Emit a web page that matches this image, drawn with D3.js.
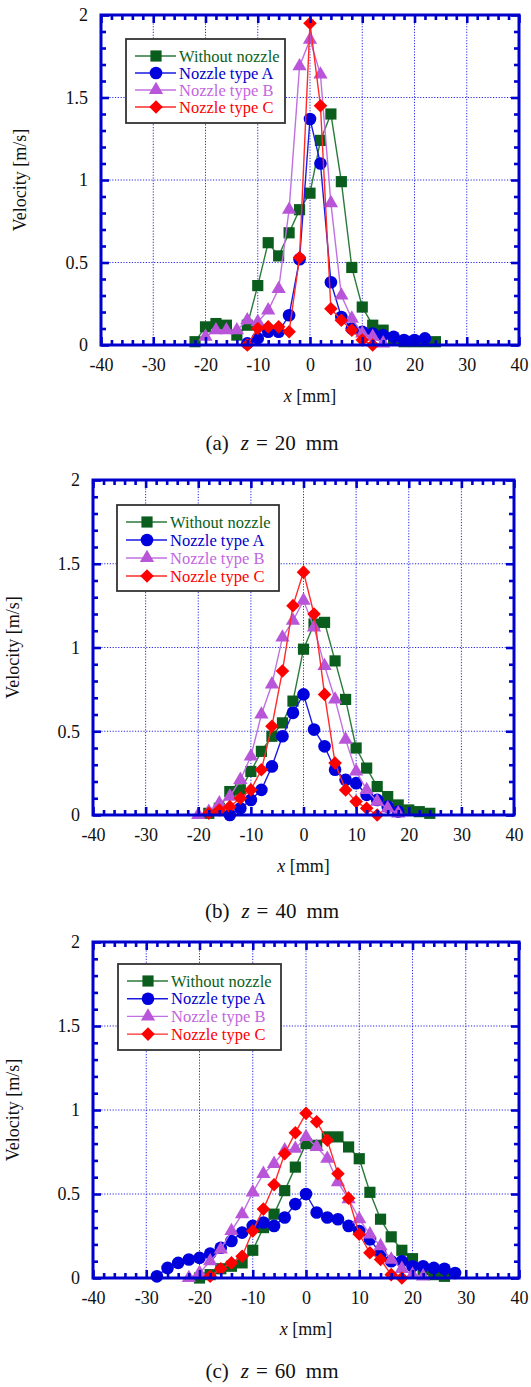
<!DOCTYPE html>
<html>
<head>
<meta charset="utf-8">
<script src="https://cdn.jsdelivr.net/npm/d3@7"></script>
<style>
  body { margin: 0; background: #fff; }
  svg { display: block; }
  svg text { font-family: "Liberation Serif", "DejaVu Serif", serif; }
</style>
</head>
<body>
<script>
const seriesNames = ["Without nozzle", "Nozzle type A", "Nozzle type B", "Nozzle type C"];
const xTicks = [-40, -30, -20, -10, 0, 10, 20, 30, 40];
const yTicks = [0, 0.5, 1, 1.5, 2];

// z = 20 mm  [x (mm), velocity (m/s)]
const z20_none = [[-22,0.02],[-20,0.11],[-18,0.13],[-16,0.12],[-14,0.06],[-12,0.12],[-10,0.36],[-8,0.62],[-6,0.54],[-4,0.68],[-2,0.82],[0,0.92],[2,1.24],[4,1.40],[6,0.99],[8,0.47],[10,0.23],[12,0.12],[14,0.09],[16,0.03],[18,0.02],[20,0.02],[22,0.02],[24,0.02]];
const z20_A = [[-12,0.01],[-10,0.04],[-8,0.08],[-6,0.08],[-4,0.18],[-2,0.52],[0,1.37],[2,1.10],[4,0.38],[6,0.17],[8,0.10],[10,0.08],[12,0.07],[14,0.06],[16,0.05],[18,0.03],[20,0.03],[22,0.04]];
const z20_B = [[-20,0.05],[-18,0.09],[-16,0.09],[-14,0.09],[-12,0.15],[-10,0.14],[-8,0.21],[-6,0.34],[-4,0.82],[-2,1.69],[0,1.85],[2,1.64],[4,0.86],[6,0.30],[8,0.16],[10,0.07],[12,0.05],[14,0.01]];
const z20_C = [[-12,0.0],[-10,0.10],[-8,0.11],[-6,0.11],[-4,0.08],[-2,0.53],[0,1.95],[2,1.45],[4,0.22],[6,0.15],[8,0.09],[10,0.03],[12,0.0]];

// z = 40 mm
const z40_none = [[-18,0.01],[-16,0.04],[-14,0.14],[-12,0.15],[-10,0.26],[-8,0.38],[-6,0.47],[-4,0.55],[-2,0.68],[0,0.99],[2,1.14],[4,1.15],[6,0.92],[8,0.69],[10,0.40],[12,0.28],[14,0.17],[16,0.11],[18,0.06],[20,0.03],[22,0.02],[24,0.01]];
const z40_A = [[-14,0.0],[-12,0.04],[-10,0.09],[-8,0.15],[-6,0.29],[-4,0.47],[-2,0.61],[0,0.72],[2,0.51],[4,0.41],[6,0.27],[8,0.21],[10,0.19],[12,0.12],[14,0.09],[16,0.05],[18,0.02]];
const z40_B = [[-20,0.0],[-18,0.02],[-16,0.07],[-14,0.11],[-12,0.21],[-10,0.35],[-8,0.60],[-6,0.78],[-4,1.06],[-2,1.16],[0,1.28],[2,1.12],[4,0.89],[6,0.69],[8,0.45],[10,0.26],[12,0.15],[14,0.08],[16,0.04],[18,0.01]];
const z40_C = [[-18,0.01],[-16,0.03],[-14,0.05],[-12,0.10],[-10,0.15],[-8,0.27],[-6,0.53],[-4,0.86],[-2,1.25],[0,1.45],[2,1.20],[4,0.72],[6,0.31],[8,0.15],[10,0.08],[12,0.04],[14,0.0]];

// z = 60 mm
const z60_none = [[-20,0.0],[-18,0.02],[-16,0.055],[-14,0.07],[-12,0.09],[-10,0.165],[-8,0.30],[-6,0.38],[-4,0.52],[-2,0.66],[0,0.80],[2,0.79],[4,0.84],[6,0.84],[8,0.78],[10,0.71],[12,0.51],[14,0.35],[16,0.245],[18,0.165],[20,0.115],[22,0.05],[24,0.02],[26,0.01]];
const z60_A = [[-28,0.01],[-26,0.06],[-24,0.09],[-22,0.11],[-20,0.12],[-18,0.145],[-16,0.18],[-14,0.22],[-12,0.27],[-10,0.31],[-8,0.33],[-6,0.31],[-4,0.36],[-2,0.44],[0,0.50],[2,0.39],[4,0.36],[6,0.35],[8,0.31],[10,0.28],[12,0.23],[14,0.145],[16,0.10],[18,0.10],[20,0.07],[22,0.07],[24,0.06],[26,0.055],[28,0.03]];
const z60_B = [[-22,0.0],[-20,0.03],[-18,0.10],[-16,0.17],[-14,0.28],[-12,0.38],[-10,0.51],[-8,0.62],[-6,0.68],[-4,0.76],[-2,0.77],[0,0.84],[2,0.78],[4,0.71],[6,0.57],[8,0.47],[10,0.35],[12,0.26],[14,0.19],[16,0.11],[18,0.055],[20,0.02],[22,0.01]];
const z60_C = [[-18,0.01],[-16,0.055],[-14,0.09],[-12,0.13],[-10,0.28],[-8,0.41],[-6,0.555],[-4,0.74],[-2,0.865],[0,0.98],[2,0.93],[4,0.82],[6,0.62],[8,0.475],[10,0.26],[12,0.15],[14,0.11],[16,0.02],[18,0.0]];

const axisBlue = "#0000cc";
const serif = "Liberation Serif, DejaVu Serif, serif";
const markerFill = ["#0b5d1e", "#0000dd", "#b955d9", "#ff0000"];
const lineColor = ["#2a7a3a", "#1a1ae0", "#c070e0", "#ff2a2a"];
const textColor = ["#0b6120", "#0000cc", "#c266e0", "#ff0000"];
const symbols = [
    { type: d3.symbolSquare, size: 125, rot: 0 },
    { type: d3.symbolCircle, size: 125, rot: 0 },
    { type: d3.symbolTriangle, size: 88, rot: 0 },
    { type: d3.symbolSquare, size: 92, rot: 45 }
];

const panels = [
    { series: [z20_none, z20_A, z20_B, z20_C], label: "(a)", z: "20",
      l: 101, r: 519, t: 15, b: 345, leg: { x: 126, y: 39, w: 159, h: 84, row: 17 }, capY: 450, ylabX: 26 },
    { series: [z40_none, z40_A, z40_B, z40_C], label: "(b)", z: "40",
      l: 93, r: 514, t: 480, b: 815, leg: { x: 117, y: 505, w: 162, h: 86, row: 18 }, capY: 918, ylabX: 19 },
    { series: [z60_none, z60_A, z60_B, z60_C], label: "(c)", z: "60",
      l: 93, r: 519, t: 942, b: 1278, leg: { x: 118, y: 964, w: 163, h: 86, row: 17.7 }, capY: 1378, ylabX: 19 }
];

const svg = d3.select("body").append("svg")
    .attr("width", 531)
    .attr("height", 1387);

const styleTicks = g => {
    g.attr("font-family", serif).attr("font-size", 18);
    g.select(".domain").remove();
    g.selectAll(".tick line").attr("stroke", axisBlue).attr("stroke-width", 2.6);
    g.selectAll(".tick text").attr("fill", "#111");
};

panels.forEach(p => {
    const x = d3.scaleLinear().domain([-40, 40]).range([p.l, p.r]);
    const y = d3.scaleLinear().domain([0, 2]).range([p.b, p.t]);
    const g = svg.append("g");

    // dotted grid
    g.append("g").selectAll("line")
        .data(xTicks.slice(1, -1))
        .enter().append("line")
        .attr("x1", d => x(d)).attr("x2", d => x(d))
        .attr("y1", p.t).attr("y2", p.b)
        .attr("stroke", "#2a2ae6").attr("stroke-width", 1)
        .attr("stroke-dasharray", "1.2,1.6");
    g.append("g").selectAll("line")
        .data(yTicks.slice(1, -1))
        .enter().append("line")
        .attr("x1", p.l).attr("x2", p.r)
        .attr("y1", d => y(d)).attr("y2", d => y(d))
        .attr("stroke", "#2a2ae6").attr("stroke-width", 1)
        .attr("stroke-dasharray", "1.2,1.6");

    // series
    const line = d3.line().x(d => x(d[0])).y(d => y(d[1]));
    p.series.forEach((s, i) => {
        g.append("path")
            .datum(s)
            .attr("fill", "none")
            .attr("stroke", lineColor[i])
            .attr("stroke-width", 1.4)
            .attr("d", line);
        g.append("g").selectAll("path")
            .data(s)
            .enter().append("path")
            .attr("d", d3.symbol().type(symbols[i].type).size(symbols[i].size))
            .attr("transform", d => `translate(${x(d[0])},${y(d[1])}) rotate(${symbols[i].rot})`)
            .attr("fill", markerFill[i]);
    });

    // ticks on all four sides, pointing inward
    const xMinor = d3.range(-40, 41, 2).filter(v => v % 10 !== 0);
    const yMinor = d3.range(1, 20).filter(v => v % 5 !== 0).map(v => v / 10);

    g.append("g").attr("transform", `translate(0,${p.b})`)
        .call(d3.axisBottom(x).tickValues(xTicks).tickSizeInner(-8).tickSizeOuter(0).tickPadding(13).tickFormat(d => String(d)))
        .call(styleTicks);
    g.append("g").attr("transform", `translate(0,${p.b})`)
        .call(d3.axisBottom(x).tickValues(xMinor).tickSize(-5).tickFormat(""))
        .call(styleTicks);
    g.append("g").attr("transform", `translate(0,${p.t})`)
        .call(d3.axisTop(x).tickValues(xTicks).tickSize(-8).tickFormat(""))
        .call(styleTicks);
    g.append("g").attr("transform", `translate(0,${p.t})`)
        .call(d3.axisTop(x).tickValues(xMinor).tickSize(-5).tickFormat(""))
        .call(styleTicks);
    g.append("g").attr("transform", `translate(${p.l},0)`)
        .call(d3.axisLeft(y).tickValues(yTicks).tickSizeInner(-8).tickSizeOuter(0).tickPadding(13).tickFormat(d => String(d)))
        .call(styleTicks);
    g.append("g").attr("transform", `translate(${p.l},0)`)
        .call(d3.axisLeft(y).tickValues(yMinor).tickSize(-5).tickFormat(""))
        .call(styleTicks);
    g.append("g").attr("transform", `translate(${p.r},0)`)
        .call(d3.axisRight(y).tickValues(yTicks).tickSize(-8).tickFormat(""))
        .call(styleTicks);
    g.append("g").attr("transform", `translate(${p.r},0)`)
        .call(d3.axisRight(y).tickValues(yMinor).tickSize(-5).tickFormat(""))
        .call(styleTicks);

    // frame
    g.append("rect")
        .attr("x", p.l).attr("y", p.t)
        .attr("width", p.r - p.l).attr("height", p.b - p.t)
        .attr("fill", "none").attr("stroke", axisBlue).attr("stroke-width", 3);

    // legend
    const lg = g.append("g").attr("transform", `translate(${p.leg.x},${p.leg.y})`);
    lg.append("rect")
        .attr("width", p.leg.w).attr("height", p.leg.h)
        .attr("fill", "#fff").attr("stroke", "#333").attr("stroke-width", 1.8);
    seriesNames.forEach((name, i) => {
        const ry = 17 + i * p.leg.row;
        lg.append("line")
            .attr("x1", 9).attr("x2", 50).attr("y1", ry).attr("y2", ry)
            .attr("stroke", lineColor[i]).attr("stroke-width", 1.4);
        lg.append("path")
            .attr("d", d3.symbol().type(symbols[i].type).size(symbols[i].size))
            .attr("transform", `translate(30,${ry}) rotate(${symbols[i].rot})`)
            .attr("fill", markerFill[i]);
        lg.append("text")
            .attr("x", 53).attr("y", ry + 5.5)
            .attr("fill", textColor[i])
            .attr("font-family", serif)
            .attr("font-size", 16.5)
            .text(name);
    });

    // axis titles
    const xt = g.append("text")
        .attr("x", (p.l + p.r) / 2).attr("y", p.b + 57)
        .attr("text-anchor", "middle")
        .attr("font-family", serif).attr("font-size", 18).attr("fill", "#111");
    xt.append("tspan").attr("font-style", "italic").text("x");
    xt.append("tspan").text(" [mm]");

    g.append("text")
        .attr("transform", `translate(${p.ylabX},${(p.t + p.b) / 2}) rotate(-90)`)
        .attr("text-anchor", "middle")
        .attr("font-family", serif).attr("font-size", 18).attr("fill", "#111")
        .text("Velocity [m/s]");

    // caption
    const cap = g.append("text")
        .attr("x", 272).attr("y", p.capY)
        .attr("text-anchor", "middle")
        .attr("font-family", serif).attr("font-size", 21).attr("fill", "#111");
    cap.append("tspan").text(p.label);
    cap.append("tspan").attr("dx", 12).attr("font-style", "italic").text("z");
    cap.append("tspan").attr("dx", 7).text("=");
    cap.append("tspan").attr("dx", 7).text(p.z);
    cap.append("tspan").attr("dx", 10).text("mm");
});
</script>
</body>
</html>
